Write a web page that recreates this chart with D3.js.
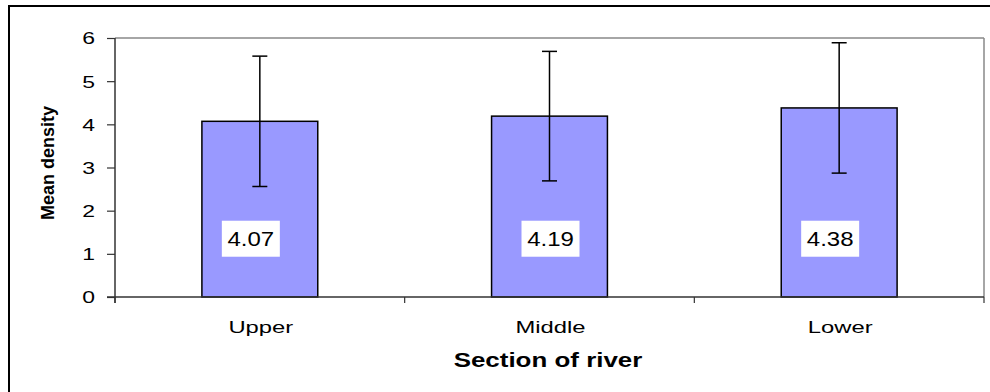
<!DOCTYPE html>
<html>
<head>
<meta charset="utf-8">
<script src="https://cdn.jsdelivr.net/npm/d3@7"></script>
<style>
  html, body { margin: 0; padding: 0; background: #fff; }
  svg { display: block; }
  text { font-family: "Liberation Sans", Arial, sans-serif; fill: #000; }
</style>
</head>
<body>
<svg id="chart" width="990" height="392"></svg>
<script>
// ---- data ----
const categories = ["Upper", "Middle", "Lower"];
const meanValues = [4.07, 4.19, 4.38];
const errorValues = [1.51, 1.50, 1.51];
const valueLabels = ["4.07", "4.19", "4.38"];
const yTicks = [0, 1, 2, 3, 4, 5, 6];
const xTitle = "Section of river";
const yTitle = "Mean density";

// ---- layout ----
const W = 990, H = 392;
const plot = { left: 115, right: 984, top: 38, bottom: 297 };
const labelDx = [-9, 1, -9];

const svg = d3.select("#chart");

// outer frame
svg.append("rect")
  .attr("x", 9).attr("y", 6)
  .attr("width", 1000).attr("height", 400)
  .attr("fill", "#fff").attr("stroke", "#000").attr("stroke-width", 2);

const x = d3.scaleBand()
  .domain(categories)
  .range([plot.left, plot.right])
  .paddingInner(0.6)
  .paddingOuter(0.3);

const y = d3.scaleLinear().domain([0, 6]).range([plot.bottom, plot.top]);

// plot area border (top and right gray)
svg.append("line")
  .attr("x1", plot.left).attr("x2", plot.right)
  .attr("y1", plot.top).attr("y2", plot.top)
  .attr("stroke", "#888").attr("stroke-width", 1.5);
svg.append("line")
  .attr("x1", plot.right).attr("x2", plot.right)
  .attr("y1", plot.top).attr("y2", plot.bottom)
  .attr("stroke", "#888").attr("stroke-width", 1.5);

// bars
svg.selectAll("rect.bar")
  .data(categories)
  .enter().append("rect")
  .attr("class", "bar")
  .attr("x", d => x(d))
  .attr("width", x.bandwidth())
  .attr("y", (d, i) => y(meanValues[i]))
  .attr("height", (d, i) => y(0) - y(meanValues[i]))
  .attr("fill", "#9999FF")
  .attr("stroke", "#000")
  .attr("stroke-width", 1.5);

// error bars
const eb = svg.selectAll("g.err").data(categories).enter().append("g").attr("class", "err");
eb.append("line")
  .attr("x1", d => x(d) + x.bandwidth() / 2)
  .attr("x2", d => x(d) + x.bandwidth() / 2)
  .attr("y1", (d, i) => y(meanValues[i] + errorValues[i]))
  .attr("y2", (d, i) => y(meanValues[i] - errorValues[i]))
  .attr("stroke", "#000").attr("stroke-width", 1.5);
[1, -1].forEach(s => {
  eb.append("line")
    .attr("x1", d => x(d) + x.bandwidth() / 2 - 7.5)
    .attr("x2", d => x(d) + x.bandwidth() / 2 + 7.5)
    .attr("y1", (d, i) => y(meanValues[i] + s * errorValues[i]))
    .attr("y2", (d, i) => y(meanValues[i] + s * errorValues[i]))
    .attr("stroke", "#000").attr("stroke-width", 1.5);
});

// axes
const yAxis = svg.append("g")
  .attr("transform", `translate(${plot.left},0)`)
  .call(d3.axisLeft(y).tickValues(yTicks).tickSize(8).tickFormat(d3.format("d")));
yAxis.select(".domain").attr("stroke", "#333").attr("stroke-width", 1.5)
  .attr("d", `M0,${plot.top}V${plot.bottom + 6}`);
yAxis.selectAll(".tick line").attr("stroke", "#333").attr("stroke-width", 1.2);
yAxis.selectAll(".tick text").each(function (d) {
  const t = d3.select(this);
  t.attr("x", null).attr("dy", null)
    .attr("text-anchor", "end")
    .attr("dominant-baseline", "central")
    .attr("transform", "translate(-20,0) scale(1.35,1)")
    .style("font-size", "17px")
    .style("font-family", "'Liberation Sans', Arial, sans-serif")
    .attr("fill", "#000");
});

const xAxis = svg.append("g").attr("transform", `translate(0,${plot.bottom})`);
xAxis.append("line")
  .attr("x1", plot.left - 8).attr("x2", plot.right)
  .attr("y1", 0).attr("y2", 0)
  .attr("stroke", "#333").attr("stroke-width", 1.5);
const edges = [0, 1, 2, 3].map(i => plot.left + i * x.step());
xAxis.selectAll("line.tk").data(edges).enter().append("line")
  .attr("class", "tk")
  .attr("x1", d => d).attr("x2", d => d)
  .attr("y1", 0).attr("y2", 6)
  .attr("stroke", "#333").attr("stroke-width", 1.2);

// category labels
svg.selectAll("text.cat").data(categories).enter().append("text")
  .attr("class", "cat")
  .attr("text-anchor", "middle")
  .attr("transform", d => `translate(${x(d) + x.bandwidth() / 2 + 1},333) scale(1.4,1)`)
  .style("font-size", "17px")
  .text(d => d);

// value labels with white boxes
const lab = svg.selectAll("g.lab").data(categories).enter().append("g").attr("class", "lab")
  .attr("transform", (d, i) => `translate(${x(d) + x.bandwidth() / 2 + labelDx[i]},${y(1.35)})`);
lab.append("rect")
  .attr("x", -29).attr("y", -18).attr("width", 58).attr("height", 36)
  .attr("fill", "#fff");
lab.append("text")
  .attr("text-anchor", "middle")
  .attr("dominant-baseline", "central")
  .attr("transform", "scale(1.2,1)")
  .style("font-size", "20px")
  .text((d, i) => valueLabels[i]);

// axis titles
svg.append("text")
  .attr("text-anchor", "middle")
  .attr("transform", `translate(548,367) scale(1.33,1)`)
  .style("font-size", "19.5px").style("font-weight", "bold")
  .text(xTitle);

svg.append("text")
  .attr("text-anchor", "middle")
  .attr("dominant-baseline", "central")
  .attr("transform", `translate(48,163) rotate(-90)`)
  .style("font-size", "18px").style("font-weight", "bold")
  .text(yTitle);
</script>
</body>
</html>
